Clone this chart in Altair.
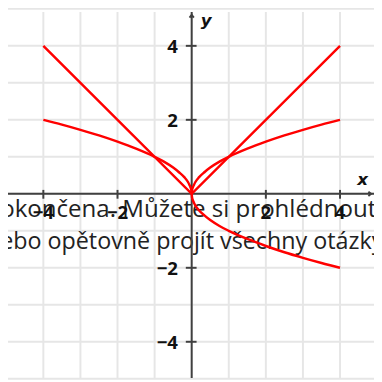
import altair as alt
import pandas as pd

# ---- data ----
abs_x = [-4, 0, 4]
abs_y = [4, 0, 4]

sqrt_right_x = [0, 0.01, 0.03, 0.06, 0.1, 0.2, 0.35, 0.5, 0.75, 1, 1.5, 2, 2.5, 3, 3.5, 4]
sqrt_right_y = [0, 0.1, 0.17, 0.24, 0.32, 0.45, 0.59, 0.71, 0.87, 1, 1.22, 1.41, 1.58, 1.73, 1.87, 2]

sqrt_left_x = [-4, -3.5, -3, -2.5, -2, -1.5, -1, -0.75, -0.5, -0.35, -0.2, -0.1, -0.06, -0.03, -0.01, 0]
sqrt_left_y = [2, 1.87, 1.73, 1.58, 1.41, 1.22, 1, 0.87, 0.71, 0.59, 0.45, 0.32, 0.24, 0.17, 0.1, 0]

neg_x = [0, 0.01, 0.03, 0.06, 0.1, 0.2, 0.35, 0.5, 0.75, 1, 1.5, 2, 2.5, 3, 3.5, 4]
neg_y = [0, -0.1, -0.17, -0.24, -0.32, -0.45, -0.59, -0.71, -0.87, -1, -1.22, -1.41, -1.58, -1.73, -1.87, -2]

grid_values = [-5, -4, -3, -2, -1, 0, 1, 2, 3, 4, 5]
tick_values = [-4, -2, 2, 4]
tick_labels = ["\u22124", "\u22122", "2", "4"]

x_domain = [-4.953, 4.916]
y_domain = [-4.979, 4.915]

overlay_line1 = "okončena. Můžete si prohlédnout"
overlay_line2 = "ebo opětovně projít všechny otázky"

# ---- tables ----
abs_df = pd.DataFrame({"x": abs_x, "y": abs_y, "o": range(len(abs_x))})
curves = pd.concat([
    pd.DataFrame({"x": sqrt_left_x, "y": sqrt_left_y, "s": "sl", "o": range(len(sqrt_left_x))}),
    pd.DataFrame({"x": sqrt_right_x, "y": sqrt_right_y, "s": "sr", "o": range(len(sqrt_right_x))}),
    pd.DataFrame({"x": neg_x, "y": neg_y, "s": "neg", "o": range(len(neg_x))}),
])
grid_df = pd.DataFrame({"v": grid_values})
ticks_df = pd.DataFrame({"v": tick_values, "label": tick_labels, "zero": 0})
axis_df = pd.DataFrame({"x0": [x_domain[0]], "x1": [x_domain[1]], "y0": [y_domain[0]], "y1": [y_domain[1]], "zero": [0]})
one_df = pd.DataFrame({"k": [0]})

xs = alt.Scale(domain=x_domain, nice=False, zero=False)
ys = alt.Scale(domain=y_domain, nice=False, zero=False)

AX = "#404040"
RED = "#ff0000"
LABEL_FONT = "Open Sans"

grid_x = alt.Chart(grid_df).mark_rule(color="#e6e6e6", strokeWidth=2).encode(
    x=alt.X("v:Q", scale=xs, axis=None))
grid_y = alt.Chart(grid_df).mark_rule(color="#e6e6e6", strokeWidth=2).encode(
    y=alt.Y("v:Q", scale=ys, axis=None))

overlay1 = alt.Chart(one_df).mark_text(
    text=overlay_line1, align="left", baseline="alphabetic", font="Open Sans", fontSize=24.6, color="#222222"
).encode(x=alt.value(-8), y=alt.value(209))
overlay2 = alt.Chart(one_df).mark_text(
    text=overlay_line2, align="left", baseline="alphabetic", font="Open Sans", fontSize=23.8, color="#222222"
).encode(x=alt.value(-8), y=alt.value(242))

x_axis = alt.Chart(axis_df).mark_rule(color=AX, strokeWidth=2).encode(
    x=alt.X("x0:Q", scale=xs, axis=None), x2="x1:Q", y=alt.Y("zero:Q", scale=ys, axis=None))
y_axis = alt.Chart(axis_df).mark_rule(color=AX, strokeWidth=2).encode(
    y=alt.Y("y0:Q", scale=ys, axis=None), y2="y1:Q", x=alt.X("zero:Q", scale=xs, axis=None))

x_arrow = alt.Chart(axis_df).mark_point(
    shape="M-1,-0.8L0,0L-1,0.8", size=30, filled=False, color=AX, strokeWidth=2, opacity=1, xOffset=-3
).encode(x=alt.X("x1:Q", scale=xs, axis=None), y=alt.Y("zero:Q", scale=ys, axis=None))
y_arrow = alt.Chart(axis_df).mark_point(
    shape="M-0.8,1L0,0L0.8,1", size=30, filled=False, color=AX, strokeWidth=2, opacity=1, yOffset=3
).encode(y=alt.Y("y1:Q", scale=ys, axis=None), x=alt.X("zero:Q", scale=xs, axis=None))

x_ticks = alt.Chart(ticks_df).mark_rule(color=AX, strokeWidth=2, yOffset=-4, y2Offset=5).encode(
    x=alt.X("v:Q", scale=xs, axis=None), y=alt.Y("zero:Q", scale=ys, axis=None), y2="zero:Q")
y_ticks = alt.Chart(ticks_df).mark_rule(color=AX, strokeWidth=2, xOffset=-6, x2Offset=5).encode(
    y=alt.Y("v:Q", scale=ys, axis=None), x=alt.X("zero:Q", scale=xs, axis=None), x2="zero:Q")

x_labels = alt.Chart(ticks_df).mark_text(
    align="center", baseline="alphabetic", dy=26, font=LABEL_FONT, fontSize=19, fontWeight="bold", color="#111111"
).encode(x=alt.X("v:Q", scale=xs, axis=None), y=alt.Y("zero:Q", scale=ys, axis=None), text="label:N")
y_labels = alt.Chart(ticks_df).mark_text(
    align="right", baseline="middle", dx=-14, dy=1, font=LABEL_FONT, fontSize=19, fontWeight="bold", color="#111111"
).encode(y=alt.Y("v:Q", scale=ys, axis=None), x=alt.X("zero:Q", scale=xs, axis=None), text="label:N")

abs_line = alt.Chart(abs_df).mark_line(color=RED, strokeWidth=2.5, interpolate="linear").encode(
    x=alt.X("x:Q", scale=xs, axis=None),
    y=alt.Y("y:Q", scale=ys, axis=None),
    order="o:Q",
)
curve_lines = alt.Chart(curves).mark_line(color=RED, strokeWidth=2.5, interpolate="monotone").encode(
    x=alt.X("x:Q", scale=xs, axis=None),
    y=alt.Y("y:Q", scale=ys, axis=None),
    detail="s:N",
    order="o:Q",
)

x_name = alt.Chart(one_df).mark_text(
    text="x", align="left", baseline="alphabetic", font="DejaVu Sans", fontSize=17,
    fontStyle="italic", fontWeight="bold", color="#111111"
).encode(x=alt.value(357), y=alt.value(177))
y_name = alt.Chart(one_df).mark_text(
    text="y", align="left", baseline="alphabetic", font="DejaVu Sans", fontSize=17,
    fontStyle="italic", fontWeight="bold", color="#111111"
).encode(x=alt.value(197), y=alt.value(14))

chart = alt.layer(
    grid_x, grid_y, overlay1, overlay2, x_axis, y_axis, x_arrow, y_arrow, x_ticks, y_ticks,
    x_labels, y_labels, abs_line, curve_lines, x_name, y_name
).properties(
    width=374, height=374, padding=0,
    autosize=alt.AutoSizeParams(type="none"),
).configure_view(stroke=None)

chart.save("out.html", embed_options={"renderer": "svg", "actions": False})
